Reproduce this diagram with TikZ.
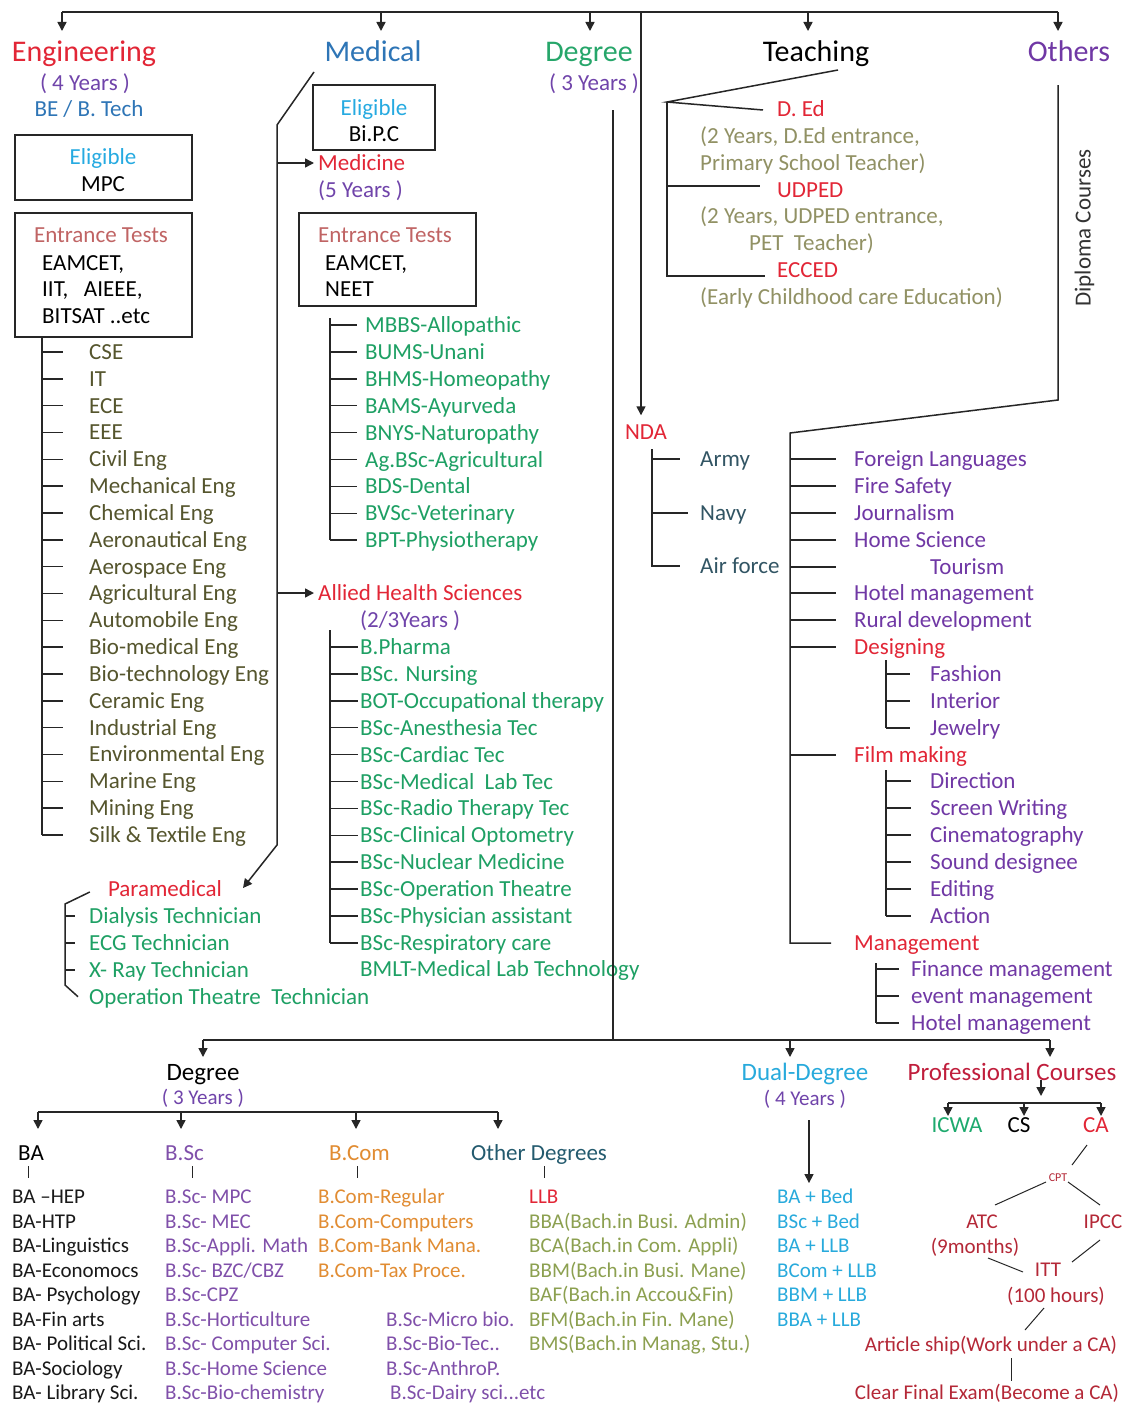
\documentclass[tikz,border=0pt]{standalone}
\usepackage{fontspec}
\setmainfont{Carlito}
\usetikzlibrary{arrows.meta}
\definecolor{engred}{RGB}{226,38,54}
\definecolor{medblue}{RGB}{46,117,182}
\definecolor{deggreen}{RGB}{38,166,106}
\definecolor{othpurple}{RGB}{112,56,165}
\definecolor{yrpurple}{RGB}{112,68,170}
\definecolor{eligcyan}{RGB}{38,170,225}
\definecolor{enttest}{RGB}{192,100,100}
\definecolor{engitem}{RGB}{85,85,45}
\definecolor{meditem}{RGB}{30,160,100}
\definecolor{teachsub}{RGB}{145,145,100}
\definecolor{ndaitem}{RGB}{50,85,100}
\definecolor{bscpurple}{RGB}{128,80,170}
\definecolor{bcomorange}{RGB}{225,140,50}
\definecolor{othdeg}{RGB}{35,90,110}
\definecolor{bbagreen}{RGB}{140,160,80}
\definecolor{dualcyan}{RGB}{40,170,220}
\definecolor{profred}{RGB}{192,30,60}
\definecolor{cptred}{RGB}{180,40,55}
\definecolor{icwagreen}{RGB}{30,170,110}
\tikzset{
  ln/.style={draw=black!85, line width=1.5pt},
  thin ln/.style={draw=black!85, line width=1pt},
  arr/.style={ln, -{Triangle[width=9pt,length=9pt]}},
  tb/.style={inner sep=0pt, text height=15pt, text depth=0pt, font=\fontsize{23}{26}\selectfont},
  itm/.style={tb, anchor=west},
  ctr/.style={tb, anchor=center},
  hd/.style={inner sep=0pt, text height=19.5pt, text depth=0pt, font=\fontsize{30}{34}\selectfont},
  bhd/.style={inner sep=0pt, text height=16pt, text depth=0pt, font=\fontsize{25}{28}\selectfont},
  sm/.style={inner sep=0pt, anchor=west, text height=13.5pt, text depth=0pt, font=\fontsize{21}{24}\selectfont},
  smc/.style={sm, anchor=center},
  tiny/.style={inner sep=0pt, text height=8pt, text depth=0pt, font=\fontsize{12}{14}\selectfont},
  boxs/.style={draw=black!85, line width=1.5pt, inner sep=0pt},
}
\begin{document}
\begin{tikzpicture}[x=1pt,y=-1pt]
\useasboundingbox (0,0) rectangle (1126,1405);
\fill[white] (0,0) rectangle (1126,1405);

% ---------------- top bar
\coordinate (tl) at (62,12); \coordinate (tr) at (1058,12);
\draw[ln] (tl) -- (tr);
\foreach \x/\n in {62/a,381/b,590/c,808/d,1058/e}{
  \coordinate (top\n) at (\x,12);
  \draw[arr] (top\n) -- ++(0,19);
}

% ---------------- Engineering
\node[hd,text=engred] (eng) at (84,52) {Engineering};
\node[ctr,text=yrpurple] (engyr) at (85,83) {( 4 Years )};
\node[ctr,text=medblue] (engbt) at (89,109) {BE / B. Tech};
\node[boxs, minimum width=177pt, minimum height=65pt] (engbox1) at (103.5,167.5) {};
\node[ctr,text=eligcyan] (engel) at (103,157) {Eligible};
\node[ctr] (engmpc) at (103,184) {MPC};
\node[boxs, minimum width=177pt, minimum height=124pt] (engbox2) at (103.5,275) {};
\node[ctr,text=enttest] (engent) at (101,235) {Entrance Tests};
\node[itm] (engt1) at (42,263) {EAMCET,};
\node[itm] (engt2) at (42,289) {IIT,\ \ \ AIEEE,};
\node[itm] (engt3) at (42,316) {BITSAT ..etc};
\foreach \txt [count=\i from 0] in {CSE,IT,ECE,EEE,Civil Eng,Mechanical Eng,Chemical Eng,Aeronautical Eng,Aerospace Eng,Agricultural Eng,Automobile Eng,Bio-medical Eng,Bio-technology Eng,Ceramic Eng,Industrial Eng,Environmental Eng,Marine Eng,Mining Eng,Silk \& Textile Eng}{
  \node[itm,text=engitem] (engi\i) at (89,{352+26.83*\i}) {\txt};
  \draw[ln] (engi\i.west) ++(-47,0) -- ++(21,0);
}
\draw[ln] ([xshift=-47pt]engi0.west |- engbox2.south) -- ([xshift=-47pt]engi18.west);

% ---------------- Medical
\node[hd,text=medblue] (med) at (373,52) {Medical};
\coordinate (m1) at (314,72); \coordinate (m2) at (277,125);
\coordinate (m3) at (277,845); \coordinate (m4) at (243,888);
\draw[arr] (m1) -- (m2) -- (m3) -- (m4);
\node[boxs, minimum width=122pt, minimum height=65pt] (medbox1) at (374,117.5) {};
\node[ctr,text=eligcyan] (medel) at (374,108) {Eligible};
\node[ctr] (medbpc) at (374,134) {Bi.P.C};
\node[itm,text=engred] (medicine) at (318,163) {Medicine};
\draw[arr] (medicine.west -| m2) -- ([xshift=-4pt]medicine.west);
\node[itm,text=yrpurple] (medyr) at (318,190) {(5 Years )};
\node[boxs, minimum width=177pt, minimum height=93pt] (medbox2) at (387.5,259.5) {};
\node[ctr,text=enttest] (medent) at (385,235) {Entrance Tests};
\node[itm] (medt1) at (325,263) {EAMCET,};
\node[itm] (medt2) at (325,289) {NEET};
\foreach \txt [count=\i from 0] in {MBBS-Allopathic,BUMS-Unani,BHMS-Homeopathy,BAMS-Ayurveda,BNYS-Naturopathy,Ag.BSc-Agricultural,BDS-Dental,BVSc-Veterinary,BPT-Physiotherapy}{
  \node[itm,text=meditem] (mi\i) at (365,{325+26.9*\i}) {\txt};
  \draw[ln] (mi\i.west) ++(-35,0) -- ++(27,0);
}
\draw[ln] ([xshift=-35pt,yshift=7pt]mi0.west) -- ([xshift=-35pt]mi8.west);

\node[itm,text=engred] (allied) at (318,593) {Allied Health Sciences};
\draw[arr] (allied.west -| m2) -- ([xshift=-4pt]allied.west);
\node[itm,text=yrpurple] (allyr) at (360,620) {(2/3Years )};
\foreach \txt [count=\i from 0] in {B.Pharma,BSc. Nursing,BOT-Occupational therapy,BSc-Anesthesia Tec,BSc-Cardiac Tec,BSc-Medical\ \ Lab Tec,BSc-Radio Therapy Tec,BSc-Clinical Optometry,BSc-Nuclear Medicine,BSc-Operation Theatre,BSc-Physician assistant,BSc-Respiratory care}{
  \node[itm,text=meditem] (ai\i) at (360,{647+26.9*\i}) {\txt};
  \draw[ln] (ai\i.west) ++(-30,0) -- ++(28,0);
}
\draw[ln] ([xshift=-30pt,yshift=17pt]ai0.west) -- ([xshift=-30pt]ai11.west);
\node[itm,text=meditem] (bmlt) at (360,969) {BMLT-Medical Lab Technology};

% Paramedical
\node[ctr,text=engred] (para) at (165,889) {Paramedical};
\foreach \txt [count=\i from 0] in {Dialysis Technician,ECG Technician,X- Ray Technician,Operation Theatre\ \ Technician}{
  \node[itm,text=meditem] (pi\i) at (89,{916+26.9*\i}) {\txt};
}
\foreach \i in {0,1,2}{ \draw[ln] (pi\i.west) ++(-24,0) -- ++(10,0); }
\draw[ln] ([xshift=-18pt,yshift=-3pt]para.west) -- (65,904) -- (65,985) -- ([xshift=-11pt]pi3.west);

% ---------------- Degree (top)
\node[hd,text=deggreen] (deg) at (589,52) {Degree};
\node[ctr,text=yrpurple] (degyr) at (594,83) {( 3 Years )};
\coordinate (dv1) at (613,110); \coordinate (dv2) at (613,1040);
\draw[ln] (dv1) -- (dv2);

% ---------------- NDA
\node[ctr,text=engred] (nda) at (646,432) {NDA};
\coordinate (nv) at (641,12);
\draw[arr, shorten >=9pt] (nv) -- (nv |- nda.north);
\node[itm,text=ndaitem] (army) at (700,459) {Army};
\node[itm,text=ndaitem] (navy) at (700,513) {Navy};
\node[itm,text=ndaitem] (airf) at (700,566) {Air force};
\draw[ln] (652,449) -- (652,566) -- ([xshift=-20pt]airf.west);
\draw[ln] (army.west) ++(-48,0) -- ++(28,0);
\draw[ln] (navy.west) ++(-48,0) -- ++(36,0);

% ---------------- Teaching
\node[hd] (teach) at (816,52) {Teaching};
\coordinate (tc1) at (838,70); \coordinate (tc2) at (667,102);
\node[itm,text=engred] (ded) at (777,109) {D. Ed};
\draw[ln] (tc1) -- (tc2) -- ([xshift=-14pt,yshift=-1pt]ded.west);
\node[itm,text=teachsub] (ded1) at (700,136) {(2 Years, D.Ed entrance,};
\node[itm,text=teachsub] (ded2) at (700,163) {Primary School Teacher)};
\node[itm,text=engred] (udped) at (777,190) {UDPED};
\node[itm,text=teachsub] (ud1) at (700,216) {(2 Years, UDPED entrance,};
\node[itm,text=teachsub] (ud2) at (749,243) {PET\ \ Teacher)};
\node[itm,text=engred] (ecced) at (777,270) {ECCED};
\node[itm,text=teachsub] (ec1) at (700,297) {(Early Childhood care Education)};
\draw[ln] (tc2) -- (667,276) -- (765,276);
\draw[ln] (667,186) -- (760,186);

% ---------------- Others
\node[hd,text=othpurple] (oth) at (1069,52) {Others};
\node[tb, rotate=90, text=black!80] (dipl) at (1083,228) {Diploma Courses};
\coordinate (o1) at (1058,85); \coordinate (o2) at (1058,400);
\coordinate (o3) at (790,433); \coordinate (o4) at (790,943);
\node[itm,text=engred] (mgmt) at (854,943) {Management};
\draw[ln] (o1) -- (o2) -- (o3) -- (o4) -- ([xshift=-23pt]mgmt.west);
\foreach \n/\y/\x/\c/\txt in {of1/459/854/othpurple/Foreign Languages,of2/486/854/othpurple/Fire Safety,of3/513/854/othpurple/Journalism,of4/540/854/othpurple/Home Science,of5/567/930/othpurple/Tourism,of6/593/854/othpurple/Hotel management,of7/620/854/othpurple/Rural development,desg/647/854/engred/Designing,film/755/854/engred/Film making}{
  \node[itm,text=\c] (\n) at (\x,\y) {\txt};
  \draw[ln] (790,\y) -- (836,\y);
}
\foreach \n/\y/\txt in {ds1/674/Fashion,ds2/701/Interior,ds3/728/Jewelry}{
  \node[itm,text=othpurple] (\n) at (930,\y) {\txt};
  \draw[ln] (886,\y) -- (910,\y);
}
\draw[ln] (886,660) -- (886,728);
\foreach \n/\y/\txt in {fm1/781/Direction,fm2/808/Screen Writing,fm3/835/Cinematography,fm4/862/Sound designee,fm5/889/Editing,fm6/916/Action}{
  \node[itm,text=othpurple] (\n) at (930,\y) {\txt};
  \draw[ln] (886,\y) -- (911,\y);
}
\draw[ln] (886,770) -- (886,916);
\foreach \n/\y/\txt in {mg1/969/Finance management,mg2/996/event management,mg3/1023/Hotel management}{
  \node[itm,text=othpurple] (\n) at (911,\y) {\txt};
  \draw[ln] (876,\y) -- (899,\y);
}
\draw[ln] (876,963) -- (876,1023);

% ---------------- bottom bar
\draw[ln] (203,1040) -- (1050,1040);
\foreach \x/\n in {203/a,790/b,1050/c}{
  \coordinate (bot\n) at (\x,1040);
  \draw[arr] (bot\n) -- ++(0,17);
}

% Degree (bottom)
\node[bhd] (bdeg) at (203,1072) {Degree};
\node[smc,text=yrpurple] (bdegyr) at (203,1098) {( 3 Years )};
\draw[ln] (38,1112) -- (498,1112);
\foreach \x in {38,181,356,498}{ \draw[arr] (\x,1112) -- ++(0,17); }
\node[itm] (ba) at (18,1153) {BA};
\node[itm,text=bscpurple] (bsc) at (165,1153) {B.Sc};
\node[itm,text=bcomorange] (bcom) at (329,1153) {B.Com};
\node[itm,text=othdeg] (othd) at (471,1153) {Other Degrees};
\foreach \x in {28,192,357,544}{ \draw[thin ln] (\x,1166) -- (\x,1178); }
\foreach \txt [count=\i from 0] in {BA --HEP,BA-HTP,BA-Linguistics,BA-Economocs,BA- Psychology,BA-Fin arts,BA- Political Sci.,BA-Sociology,BA- Library Sci.}{
  \node[sm,text=black!90] (bai\i) at (12,{1197+24.5*\i}) {\txt};
}
\foreach \txt [count=\i from 0] in {B.Sc- MPC,B.Sc- MEC,B.Sc-Appli. Math,B.Sc- BZC/CBZ,B.Sc-CPZ,B.Sc-Horticulture,B.Sc- Computer Sci.,B.Sc-Home Science,B.Sc-Bio-chemistry}{
  \node[sm,text=bscpurple] (bsi\i) at (165,{1197+24.5*\i}) {\txt};
}
\foreach \txt [count=\i from 0] in {B.Com-Regular,B.Com-Computers,B.Com-Bank Mana.,B.Com-Tax Proce.}{
  \node[sm,text=bcomorange] (bci\i) at (318,{1197+24.5*\i}) {\txt};
}
\foreach \txt [count=\i from 5] in {B.Sc-Micro bio.,B.Sc-Bio-Tec..,B.Sc-AnthroP.}{
  \node[sm,text=bscpurple] (bxi\i) at (386,{1197+24.5*\i}) {\txt};
}
\node[sm,text=bscpurple] (bxi8) at (390,1393) {B.Sc-Dairy sci...etc};
\node[sm,text=engred] (llb) at (529,1197) {LLB};
\foreach \txt [count=\i from 1] in {BBA(Bach.in Busi. Admin),BCA(Bach.in Com. Appli),BBM(Bach.in Busi. Mane),BAF(Bach.in Accou\&Fin),BFM(Bach.in Fin. Mane),{BMS(Bach.in Manag, Stu.)}}{
  \node[sm,text=bbagreen] (odi\i) at (529,{1197+24.5*\i}) {\txt};
}

% Dual degree
\node[bhd,text=dualcyan] (dual) at (805,1072) {Dual-Degree};
\node[smc,text=yrpurple] (dualyr) at (805,1099) {( 4 Years )};
\foreach \txt [count=\i from 0] in {BA + Bed,BSc + Bed,BA + LLB,BCom + LLB,BBM + LLB,BBA + LLB}{
  \node[sm,text=dualcyan] (dd\i) at (777,{1197+24.5*\i}) {\txt};
}
\coordinate (dda) at (809,1120);
\draw[arr, shorten >=7pt] (dda) -- (dda |- dd0.north);

% Professional courses
\node[bhd,text=profred] (prof) at (1012,1072) {Professional Courses};
\coordinate (pc) at (1041,1080);
\draw[arr] (pc) -- ++(0,16);
\draw[ln] (948,1103) -- (1101,1103);
\foreach \x in {948,1024,1101}{ \draw[arr] (\x,1103) -- ++(0,13); }
\node[ctr,text=icwagreen] (icwa) at (957,1125) {ICWA};
\node[ctr] (cs) at (1019,1125) {CS};
\node[ctr,text=engred] (ca) at (1096,1125) {CA};
\node[tiny,text=cptred] (cpt) at (1058,1177) {CPT};
\node[smc,text=cptred] (atc) at (982,1222) {ATC};
\node[smc,text=cptred] (atcm) at (975,1247) {(9months)};
\node[smc,text=cptred] (ipcc) at (1103,1222) {IPCC};
\node[smc,text=cptred] (itt) at (1048,1270) {ITT};
\node[smc,text=cptred] (itth) at (1056,1296) {(100 hours)};
\node[smc,text=cptred] (art) at (991,1345) {Article ship(Work under a CA)};
\node[smc,text=cptred] (fin) at (987,1393) {Clear Final Exam(Become a CA)};
\draw[thin ln] (1087,1145) -- (1072,1165);
\draw[thin ln] (1046,1182) -- (995,1205);
\draw[thin ln] (1068,1182) -- (1100,1205);
\draw[thin ln] (1100,1240) -- (1072,1262);
\draw[thin ln] (988,1258) -- (1023,1272);
\draw[thin ln] (1044,1308) -- (1025,1330);
\draw[thin ln] (1011,1358) -- (1011,1381);
\end{tikzpicture}
\end{document}
